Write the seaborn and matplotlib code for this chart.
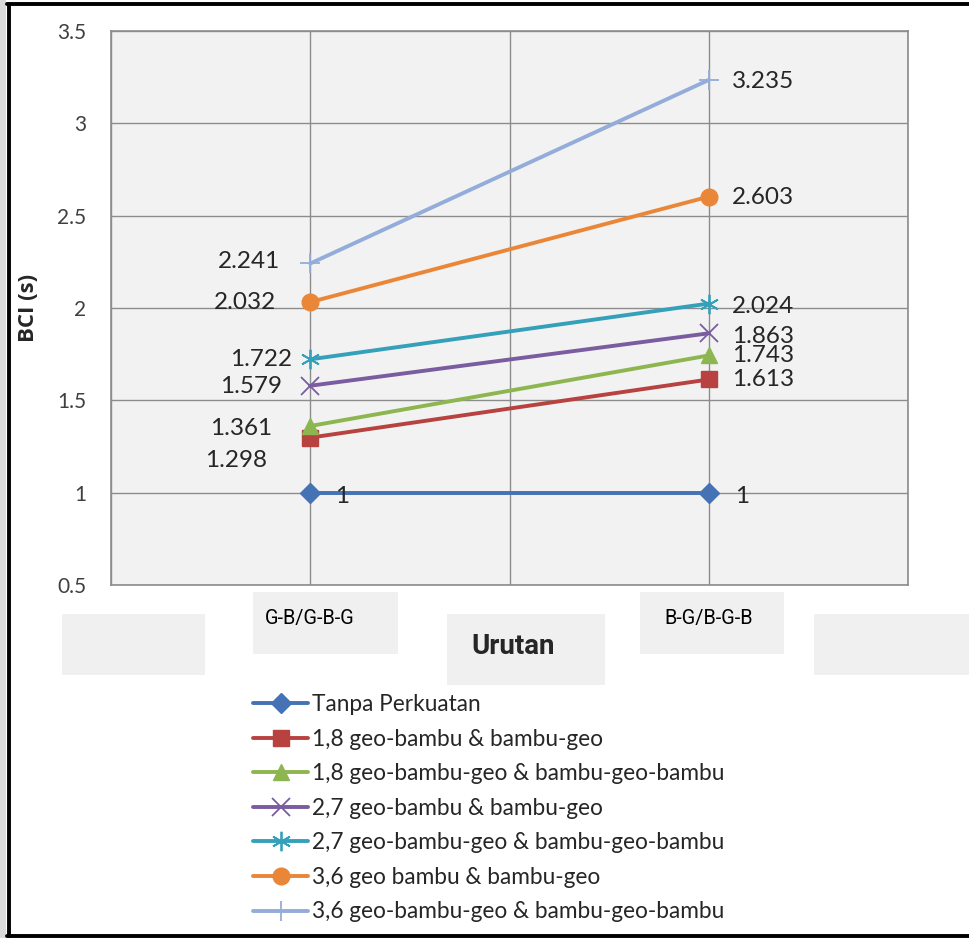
import numpy as np
import pandas as pd
import matplotlib
matplotlib.use("Agg")
import matplotlib.pyplot as plt
from matplotlib.patches import Rectangle
from matplotlib.lines import Line2D
from matplotlib.transforms import ScaledTranslation
import seaborn as sns

# ---- data -------------------------------------------------------------
categories = ["G-B/G-B-G", "B-G/B-G-B"]
series_names = [
    "Tanpa Perkuatan",
    "1,8 geo-bambu & bambu-geo",
    "1,8 geo-bambu-geo & bambu-geo-bambu",
    "2,7 geo-bambu & bambu-geo",
    "2,7 geo-bambu-geo & bambu-geo-bambu",
    "3,6 geo bambu & bambu-geo",
    "3,6 geo-bambu-geo & bambu-geo-bambu",
]
tanpa = [1.0, 1.0]
s18_gb = [1.298, 1.613]
s18_gbg = [1.361, 1.743]
s27_gb = [1.579, 1.863]
s27_gbg = [1.722, 2.024]
s36_gb = [2.032, 2.603]
s36_gbg = [2.241, 3.235]
series_values = [tanpa, s18_gb, s18_gbg, s27_gb, s27_gbg, s36_gb, s36_gbg]
y_ticks = [0.5, 1, 1.5, 2, 2.5, 3, 3.5]

# ---- styles -----------------------------------------------------------
colors = ["#4472b4", "#b8423f", "#8db650", "#7a5ca0", "#35a0ba", "#ea8638", "#94acd9"]
markers = ["D", "s", "^", "x", (6, 2, 0), "o", "+"]
msizes = [10, 11, 12, 13, 14, 12, 15]
mews = [1, 1, 1, 1.3, 1.3, 1, 1.3]

# label offsets in pixels (dx, dy) and alignment for each point
left_offsets = [(25, -4, "left"), (-43, -23, "right"), (-38, -2, "right"),
                (-28, -1, "right"), (-18, 0, "right"), (-34, 0, "right"),
                (-30, 2, "right")]
right_offsets = [(26, -4), (23, 0), (23, 0), (23, -3), (23, -3), (23, -1), (23, -2)]

sns.set_style("white")
plt.rcParams["font.family"] = ["Lato", "DejaVu Sans"]

W, H = 969, 938
fig = plt.figure(figsize=(W / 100, H / 100), dpi=100)
fig.patch.set_facecolor("white")

def fx(px):
    return px / W

def fy(py):
    return 1 - py / H

ax = fig.add_axes([fx(111), fy(585), fx(908) - fx(111), fy(31) - fy(585)])
ax.set_facecolor("#f2f2f2")

xpos = [2 * i + 1 for i in range(len(categories))]
PX = 0.72  # points per pixel at 100 dpi

for name, vals, c, m, ms, mew in zip(series_names, series_values, colors,
                                     markers, msizes, mews):
    df = pd.DataFrame({"x": xpos, "y": vals})
    sns.lineplot(data=df, x="x", y="y", ax=ax, color=c, lw=2.8,
                 marker=m, markersize=ms, markeredgewidth=mew,
                 markeredgecolor=c, label=name, zorder=3)

for vals, lo, ro in zip(series_values, left_offsets, right_offsets):
    ax.annotate(f"{vals[0]:g}", (xpos[0], vals[0]),
                xytext=(lo[0] * PX, lo[1] * PX), textcoords="offset points",
                ha=lo[2], va="center", fontsize=17.5, color="#262626", zorder=4)
    ax.annotate(f"{vals[1]:g}", (xpos[1], vals[1]),
                xytext=(ro[0] * PX, ro[1] * PX), textcoords="offset points",
                ha="left", va="center", fontsize=17.5, color="#262626", zorder=4)

ax.set_xlim(0, 4)
ax.set_ylim(0.5, 3.5)
ax.set_yticks(y_ticks)
ax.set_yticklabels([f"{v:g}" for v in y_ticks])
ax.xaxis.remove_overlapping_locs = False
ax.set_xticks(range(5))
ax.set_xticklabels([])
ax.set_xticks(xpos, minor=True)
ax.set_xticklabels(categories, minor=True,
                   fontfamily=["Roboto", "DejaVu Sans"],
                   fontsize=14.3, color="black")
for lbl in ax.get_xticklabels(minor=True):
    lbl.set_transform(lbl.get_transform() + ScaledTranslation(0.04, 0, fig.dpi_scale_trans))
ax.tick_params(axis="both", which="both", length=0)
ax.tick_params(axis="y", pad=18, labelsize=15, labelcolor="#404040")
ax.tick_params(axis="x", which="minor", pad=17)
ax.grid(True, which="major", color="#8c8c8c", lw=1)
ax.grid(False, which="minor")
ax.set_axisbelow(True)
for sp in ax.spines.values():
    sp.set_visible(True)
    sp.set_color("#8c8c8c")
    sp.set_linewidth(1.2)

ax.set_xlabel("Urutan", fontsize=20, fontweight="bold",
              fontfamily=["Roboto", "DejaVu Sans"])
ax.xaxis.set_label_coords((513 - 111) / 797, (585 - 647) / 554)
ax.xaxis.label.set_va("center")
ax.set_ylabel("BCI (s)", fontsize=16, fontweight="bold",
              fontfamily=["Open Sans", "DejaVu Sans"])
ax.yaxis.set_label_coords((29 - 111) / 797, 0.50)
ax.yaxis.label.set_va("center")

# legend below the chart
handles, labels = ax.get_legend_handles_labels()
if ax.get_legend():
    ax.get_legend().remove()
fig.legend(handles, labels, loc="upper left",
           bbox_to_anchor=(fx(253), fy(694)), frameon=False,
           fontsize=16.3, handlelength=2.45, handletextpad=0.15,
           labelspacing=0.6, borderpad=0, borderaxespad=0)

# light panels behind the category labels
for x0, y0, x1, y1 in [(62, 614, 205, 675), (253, 592, 398, 654),
                       (447, 614, 605, 685), (640, 592, 784, 654),
                       (814, 614, 969, 675)]:
    fig.add_artist(Rectangle((fx(x0), fy(y1)), fx(x1) - fx(x0), fy(y0) - fy(y1),
                             transform=fig.transFigure, facecolor="#f0f0f0",
                             edgecolor="none", zorder=-1))

# frame around the figure
fig.add_artist(Rectangle((0, 0), fx(6), 1, transform=fig.transFigure,
                         facecolor="#d9d9d9", edgecolor="none", zorder=-1))
for xs, ys in [([fx(8.5), fx(8.5)], [fy(4), fy(936)]),
               ([fx(7), 1], [fy(4.5), fy(4.5)]),
               ([fx(7), 1], [fy(935.5), fy(935.5)])]:
    fig.add_artist(Line2D(xs, ys, transform=fig.transFigure, color="black", lw=2.8))

fig.savefig("out.png", dpi=100)
